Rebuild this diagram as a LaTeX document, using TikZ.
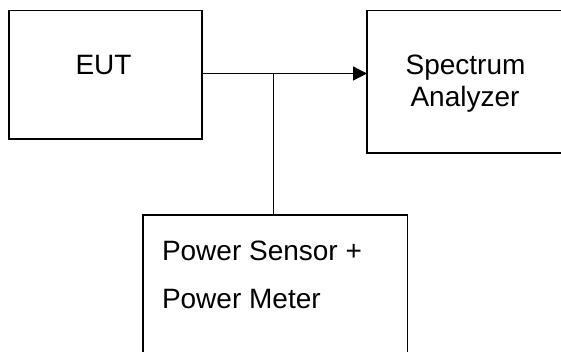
\documentclass[tikz,border=0pt]{standalone}
\usepackage{fontspec}
\setmainfont{Liberation Sans}
\usetikzlibrary{arrows.meta}
\begin{document}
\begin{tikzpicture}[x=1pt,y=-1pt,
  box/.style={draw=black,line width=1.5pt,rectangle,inner sep=0pt,outer sep=0pt},
  lbl/.style={font=\fontsize{28}{32}\selectfont,inner sep=0pt,outer sep=0pt},
  conn/.style={draw=black,line width=1.3pt}]
\useasboundingbox (0,0) rectangle (561,351);
\clip (0,0) rectangle (561,351);
\node[box,minimum width=193pt,minimum height=128.3pt] (EUT) at (105.5,74.85) {};
\node[box,minimum width=208pt,minimum height=142.3pt] (SA) at (471,81.85) {};
\node[box,minimum width=264.7pt,minimum height=170pt] (PM) at (275.35,300) {};
\node[lbl,anchor=base] (eutt) at (103.5,74) {EUT};
\node[lbl,anchor=base] (sat1) at (465.5,74) {Spectrum};
\node[lbl,anchor=base] (sat2) at (465,106) {Analyzer};
\node[lbl,anchor=base west] (pmt1) at (162,260) {Power Sensor +};
\node[lbl,anchor=base west] (pmt2) at (162,308) {Power Meter};
\coordinate (J) at (273.7,73.5);
\draw[conn] (EUT.east |- J) -- (J);
\draw[conn,-{Triangle[length=14pt,width=14pt]}] (J) -- (SA.west |- J);
\draw[conn] (J) -- (J |- PM.north);
\end{tikzpicture}
\end{document}
